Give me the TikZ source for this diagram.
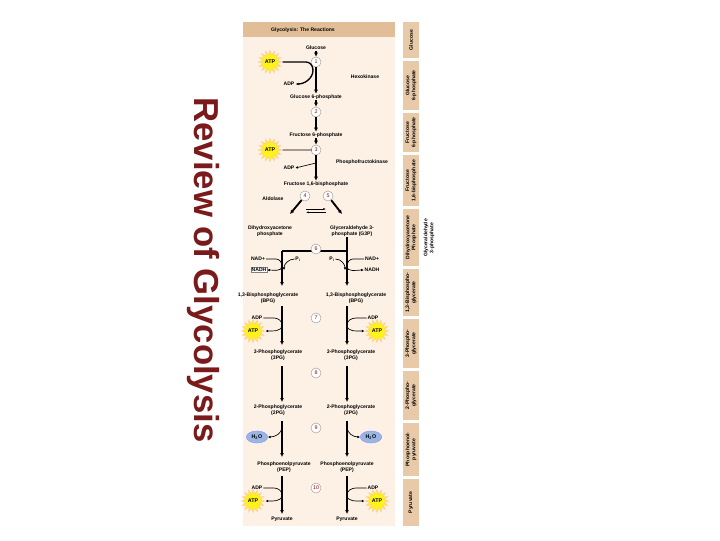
\documentclass[tikz,border=0pt]{standalone}
\usepackage{fontspec}
\setmainfont{Liberation Sans}
\usetikzlibrary{shapes.geometric,arrows.meta}
\definecolor{panel}{HTML}{FCF1E4}
\definecolor{tab}{HTML}{E8C9A8}
\definecolor{hdr}{HTML}{E2BE98}
\definecolor{maroon}{HTML}{7A1A1A}
\tikzset{
 lbl/.style={font=\fontsize{3.8}{4.6}\selectfont\bfseries, align=center, inner sep=0.5pt},
 num/.style={circle, draw=gray!70, fill=white, minimum size=7.5pt, inner sep=0pt, font=\fontsize{4}{4}\selectfont, text=red!60!black},
 atp/.style={star, star points=16, star point ratio=1.6, fill=yellow!90, draw=orange!40, minimum size=17pt, inner sep=0pt, font=\fontsize{4}{5}\selectfont\bfseries},
 water/.style={ellipse, fill=cyan!50!blue!40, draw=blue!40, minimum width=16pt, minimum height=9pt, inner sep=0pt, font=\fontsize{4}{5}\selectfont\bfseries},
 main/.style={line width=1.4pt, -{Latex[length=3pt,width=3pt]}},
 bar/.style={line width=1.4pt},
 side/.style={line width=0.5pt, -{Latex[length=2pt,width=2pt]}},
 tabt/.style={font=\fontsize{3.8}{4.6}\selectfont\bfseries, rotate=90, align=center},
}
\begin{document}
\begin{tikzpicture}[x=0.75pt,y=-0.75pt]
\useasboundingbox (0,0) rectangle (720,540);
\fill[white] (0,0) rectangle (720,540);
% title
\node[rotate=-90, font=\fontsize{26}{30}\selectfont\bfseries, text=maroon] (title) at (203,270) {Review of Glycolysis};
% panel
\fill[panel] (243,22) rectangle (395,526);
\fill[hdr] (243,22) rectangle (395,37);
\node[lbl] (hd) at (303,30) {Glycolysis: The Reactions};
% tabs
\foreach \a/\b/\t [count=\i] in {22/58/Glucose, 61/110/{Glucose\\6-phosphate}, 113/152/{Fructose\\6-phosphate}, 155/206/{Fructose\\1,6-bisphosphate}, 209/266/{Dihydroxyacetone\\Phosphate}, 269/316/{1,3-Bisphospho-\\glycerate}, 319/368/{3-Phospho-\\glycerate}, 371/420/{2-Phospho-\\glycerate}, 423/476/{Phosphoenol-\\pyruvate}, 479/526/Pyruvate}{
 \fill[tab] (403,\a) rectangle (419,\b);
 \node[tabt] (tab\i) at (411,{(\a+\b)/2}) {\t};
}
\node[tabt] (g3ptab) at (429,238) {Glyceraldehyde\\3-phosphate};
% upper chain
\node[lbl] (glc) at (316,48) {Glucose};
\node[num] (n1) at (316,62) {1};
\node[atp] (atp1) at (270,62) {ATP};
\node[lbl] (adp1) at (289,84) {ADP};
\node[lbl] (hex) at (365,77) {Hexokinase};
\node[lbl] (g6p) at (316,97) {Glucose 6-phosphate};
\node[num] (n2) at (316,112) {2};
\node[lbl] (f6p) at (316,135) {Fructose 6-phosphate};
\node[num] (n3) at (316,150) {3};
\node[atp] (atp3) at (270,150) {ATP};
\node[lbl] (adp3) at (289,168) {ADP};
\node[lbl] (pfk) at (362,162) {Phosphofructokinase};
\node[lbl] (fbp) at (316,184) {Fructose 1,6-bisphosphate};
\node[num] (n4) at (305,196) {4};
\node[num] (n5) at (328,196) {5};
\node[lbl] (ald) at (273,199) {Aldolase};
\node[lbl] (dhap) at (270,231) {Dihydroxyacetone\\phosphate};
\node[lbl] (g3p) at (352,231) {Glyceraldehyde 3-\\phosphate (G3P)};
\draw[main] (glc) -- (n1); \draw[main] (n1) -- (g6p);
\draw[main] (g6p) -- (n2); \draw[main] (n2) -- (f6p);
\draw[main] (f6p) -- (n3); \draw[main] (n3) -- (fbp);
\draw[line width=1pt] (atp1.east) -- (306,62) to[out=0,in=90] (313,70);
\draw[line width=1pt,-{Latex[length=2.5pt]}] (313,70) to[out=-90,in=0] (adp1.east);
\draw[line width=0.6pt] (atp3.east) -- (312,150);
\draw[side] (316,163) -- (adp3.east);
\draw[main] (n4) -- (290,214);
\draw[main] (n5) -- (342,214);
\coordinate (ea) at (306,209); \coordinate (eb) at (326,209);
\draw[-{Latex[length=2pt]}] (ea) -- (eb);
\draw[-{Latex[length=2pt]}] ([yshift=-2.5pt]eb) -- ([yshift=-2.5pt]ea);
% split
\coordinate (L0) at (282,251); \coordinate (R0) at (347,251);
\draw[bar] (g3p.south -| R0) -- (R0) -- (L0);
\node[num] (n6) at (316,249) {6};
\foreach \s/\x in {L/282,R/347}{
 \coordinate (\s1) at (\x,286); \coordinate (\s2) at (\x,306);
 \coordinate (\s3) at (\x,345); \coordinate (\s4) at (\x,366);
 \coordinate (\s5) at (\x,402); \coordinate (\s6) at (\x,421);
 \coordinate (\s7) at (\x,457); \coordinate (\s8) at (\x,476);
 \coordinate (\s9) at (\x,514);
 \draw[main] (\s0) -- (\s1); \draw[main] (\s2) -- (\s3);
 \draw[main] (\s4) -- (\s5); \draw[main] (\s6) -- (\s7);
 \draw[main] (\s8) -- (\s9);
}
\node[lbl] (bpgL) at (268,298) {1,3-Bisphosphoglycerate\\(BPG)};
\node[lbl] (bpgR) at (356,298) {1,3-Bisphosphoglycerate\\(BPG)};
\node[lbl] (pgaL) at (278,355) {3-Phosphoglycerate\\(3PG)};
\node[lbl] (pgaR) at (351,355) {3-Phosphoglycerate\\(3PG)};
\node[lbl] (pgbL) at (278,410) {2-Phosphoglycerate\\(2PG)};
\node[lbl] (pgbR) at (351,410) {2-Phosphoglycerate\\(2PG)};
\node[lbl] (pepL) at (284,467) {Phosphoenolpyruvate\\(PEP)};
\node[lbl] (pepR) at (347,467) {Phosphoenolpyruvate\\(PEP)};
\node[lbl] (pyrL) at (282,519) {Pyruvate};
\node[lbl] (pyrR) at (347,519) {Pyruvate};
\node[num] (n7) at (316,318) {7};
\node[num] (n8) at (316,373) {8};
\node[num] (n9) at (316,428) {9};
\node[num] (n10) at (316,488) {10};
% step 6 sides
\node[lbl] (nadL) at (258,259) {NAD+};
\node[lbl,draw=gray,fill=white] (nadhL) at (259,270) {NADH};
\node[lbl] (piL) at (298,259) {P\textsubscript{i}};
\node[lbl] (nadR) at (372,259) {NAD+};
\node[lbl] (nadhR) at (372,270) {NADH};
\node[lbl] (piR) at (332,259) {P\textsubscript{i}};
\draw[line width=0.5pt] (nadL.east) -- (276,259) to[out=0,in=90] (282,266);
\draw[side] (282,266) to[out=-90,in=0] (nadhL.east);
\draw[side] (piL.west) to[out=180,in=90] (284,270);
\draw[line width=0.5pt] (nadR.west) -- (353,259) to[out=180,in=90] (347,266);
\draw[side] (347,266) to[out=-90,in=180] (nadhR.west);
\draw[side] (piR.east) to[out=0,in=90] (345,270);
% step 7 and 10 sides
\foreach \y/\k in {318/7,488/10}{
 \node[lbl] (adpL\k) at (257,\y) {ADP};
 \node[atp] (atpL\k) at (253,{\y+13}) {ATP};
 \node[lbl] (adpR\k) at (373,\y) {ADP};
 \node[atp] (atpR\k) at (377,{\y+13}) {ATP};
 \draw[line width=0.5pt] (adpL\k.east) -- (274,\y) to[out=0,in=90] (282,{\y+7});
 \draw[side] (282,{\y+7}) to[out=-90,in=0] (atpL\k.east);
 \draw[line width=0.5pt] (adpR\k.west) -- (356,\y) to[out=180,in=90] (347,{\y+7});
 \draw[side] (347,{\y+7}) to[out=-90,in=180] (atpR\k.west);
}
% step 9
\node[water] (wL) at (257,437) {H\textsubscript{2}O};
\node[water] (wR) at (371,437) {H\textsubscript{2}O};
\draw[side] (282,427) to[out=-90,in=0] (wL.east);
\draw[side] (347,427) to[out=-90,in=180] (wR.west);
\end{tikzpicture}
\end{document}
